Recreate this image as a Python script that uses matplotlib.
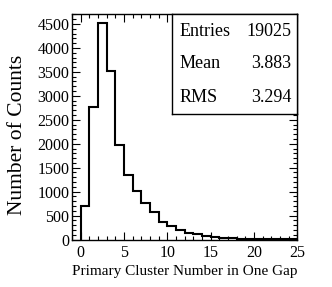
import matplotlib
matplotlib.use("Agg")
import matplotlib.pyplot as plt
import numpy as np
from matplotlib.ticker import MultipleLocator

# histogram contents, one bin per cluster number 0..24
bin_edges = np.arange(0, 26)
counts = [700, 2770, 4510, 3520, 1980, 1340, 1020, 760, 570, 360,
          280, 205, 140, 112, 80, 55, 35, 22, 15, 10,
          8, 6, 5, 3, 2]

stat_names = ["Entries", "Mean", "RMS"]
stat_values = ["19025", "3.883", "3.294"]

x_label = "Primary Cluster Number in One Gap"
y_label = "Number of Counts"

plt.rcParams["font.family"] = ["Liberation Serif", "DejaVu Serif"]

fig = plt.figure(figsize=(3.32, 2.87), dpi=100)
ax = fig.add_axes([0.217, 0.1655, 0.679, 0.786])

ax.stairs(counts, bin_edges, color="black", linewidth=1.5, baseline=0)

ax.set_xlim(-1, 25)
ax.set_ylim(0, 4710)

ax.xaxis.set_major_locator(MultipleLocator(5))
ax.xaxis.set_minor_locator(MultipleLocator(1))
ax.yaxis.set_major_locator(MultipleLocator(500))
ax.yaxis.set_minor_locator(MultipleLocator(100))
ax.tick_params(which="both", direction="in", top=True, right=True,
               width=0.8, labelsize=11.5)
ax.tick_params(which="major", length=6)
ax.tick_params(which="minor", length=3)
ax.tick_params(axis="x", which="major", pad=4)
ax.tick_params(axis="y", which="major", pad=2)
for side in ax.spines.values():
    side.set_linewidth(1.0)

ax.set_xlabel(x_label, fontsize=11, labelpad=3)
ax.set_ylabel(y_label, fontsize=15.5, labelpad=7.5)
ax.yaxis.label.set_y(0.463)

# stats box in the upper right corner
box = ax.inset_axes([0.443, 0.556, 0.557, 0.444])
box.set_xticks([])
box.set_yticks([])
box.patch.set_facecolor("white")
for side in box.spines.values():
    side.set_linewidth(1.0)
row_y = [0.82, 0.5, 0.17]
for name, val, yy in zip(stat_names, stat_values, row_y):
    box.text(0.06, yy, name, fontsize=13, ha="left", va="center", transform=box.transAxes)
    box.text(0.95, yy, val, fontsize=13, ha="right", va="center", transform=box.transAxes)

fig.savefig("out.png", dpi=100)
